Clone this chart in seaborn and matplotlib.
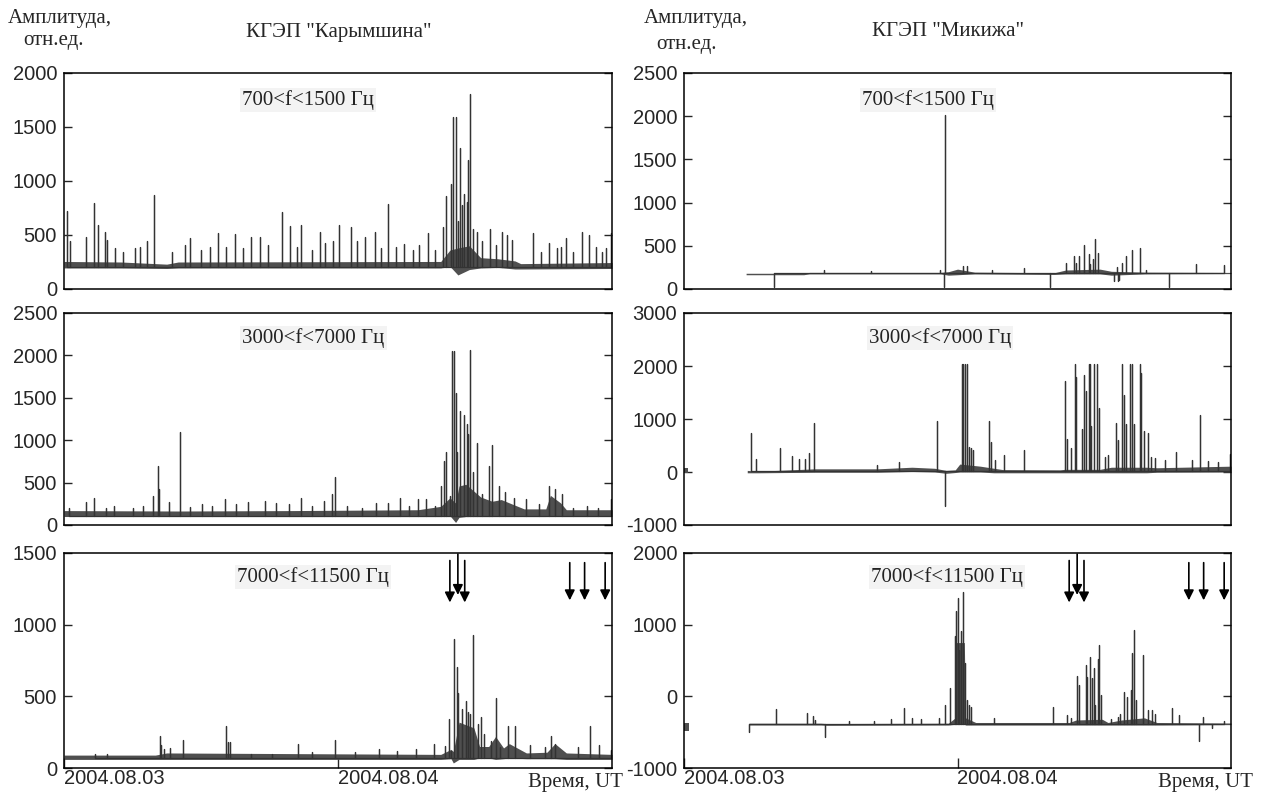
import matplotlib
matplotlib.use('Agg')
import numpy as np
import pandas as pd
import matplotlib.pyplot as plt
import seaborn as sns

# time axis: hours since 2004.08.03 00:00 UT
X_TICKS = [0, 24]
X_TICK_LABELS = ['2004.08.03', '2004.08.04']
ARROW_T = [33.8, 34.5, 35.1, 44.3, 45.6, 47.4]

# ---- Karymshina, 700<f<1500 Hz ----
KAR_LO_BASE = 200
KAR_LO_T = [0.3, 0.5, 1.9, 2.6, 3.0, 3.6, 3.8, 4.5, 5.2, 6.2, 6.7, 7.3, 7.9, 9.5, 10.6,
            11.0, 12.0, 12.8, 13.5, 14.2, 15.0, 15.7, 16.4, 17.2, 17.9, 19.1, 19.8, 20.4,
            20.8, 21.7, 22.4, 22.9, 23.6, 24.1, 25.1, 25.7, 26.4, 27.2, 27.8, 28.4, 29.1,
            29.8, 30.6, 31.1, 31.9, 32.5, 33.2, 33.5, 33.9, 34.1, 34.3, 34.5, 34.7, 34.9,
            35.0, 35.3, 35.4, 35.6, 35.8, 36.2, 36.6, 37.3, 37.8, 38.4, 38.8, 39.2, 41.1,
            41.8, 42.5, 43.2, 43.5, 44.0, 44.6, 45.4, 46.0, 46.6, 47.1, 47.5, 47.9]
KAR_LO_V = [725, 440, 485, 800, 590, 530, 450, 375, 340, 375, 390, 445, 870, 340, 405,
            475, 360, 390, 520, 390, 505, 375, 480, 480, 405, 710, 580, 390,
            590, 360, 525, 430, 440, 590, 570, 440, 485, 530, 375, 790, 390,
            415, 360, 405, 515, 360, 570, 860, 970, 1595, 1590, 625, 1310, 780,
            880, 805, 1195, 1805, 560, 530, 440, 560, 405, 530, 500, 450, 515,
            340, 430, 380, 390, 470, 340, 530, 500, 390, 340, 375, 520]
KAR_LO_BAND_T = [0, 5, 9, 10, 33, 33.8, 34.5, 35.5, 36.5, 38, 39.5, 40, 48]
KAR_LO_BAND_LO = [195, 195, 190, 195, 195, 210, 130, 180, 195, 200, 185, 185, 190]
KAR_LO_BAND_HI = [255, 250, 230, 250, 255, 360, 380, 400, 290, 280, 260, 235, 245]

# ---- Karymshina, 3000<f<7000 Hz ----
KAR_MID_BASE = 110
KAR_MID_T = [0.4, 1.9, 2.6, 3.7, 4.4, 6.0, 6.9, 7.8, 8.2, 8.3, 9.2, 10.2, 11.0, 12.1,
             13.0, 14.1, 15.1, 16.1, 17.6, 18.6, 19.7, 20.8, 21.7, 22.8, 23.5, 23.7,
             24.8, 26.1, 27.3, 28.4, 29.4, 30.2, 31.0, 31.7, 32.5, 33.0, 33.3, 33.5,
             33.8, 34.0, 34.2, 34.3, 34.4, 34.7, 35.0, 35.3, 35.4, 35.6, 35.8, 36.2,
             36.6, 37.2, 37.5, 38.1, 38.6, 39.4, 40.5, 41.6, 42.5, 43.0, 43.6, 44.6,
             45.8, 46.8, 47.9]
KAR_MID_V = [205, 270, 320, 205, 225, 205, 225, 345, 700, 420, 270, 1100, 215, 245,
             225, 305, 245, 270, 285, 265, 245, 320, 225, 285, 360, 565,
             225, 205, 265, 265, 315, 225, 305, 310, 225, 460, 755, 860,
             345, 2050, 2050, 1560, 855, 1345, 1295, 1190, 1070, 2060, 620, 970,
             360, 700, 940, 460, 390, 320, 310, 245, 460, 420, 360, 195,
             225, 205, 305]
KAR_MID_BAND_T = [0, 10, 20, 31, 33, 33.8, 34.3, 34.6, 35.2, 36.5, 37.5, 38.3, 39.2,
                  40.3, 42.2, 42.6, 43.5, 44, 48]
KAR_MID_BAND_LO = [100, 100, 100, 100, 100, 110, 30, 90, 100, 100, 100, 110, 105,
                   100, 100, 105, 100, 100, 100]
KAR_MID_BAND_HI = [170, 165, 170, 180, 220, 320, 260, 460, 480, 330, 280, 300, 250,
                   190, 190, 350, 260, 180, 180]

# ---- Karymshina, 7000<f<11500 Hz ----
KAR_HI_BASE = 70
KAR_HI_T = [2.7, 3.8, 8.4, 8.5, 8.8, 9.3, 10.4, 14.2, 14.4, 14.5, 16.4, 18.2, 20.5, 21.7,
            23.7, 25.5, 27.6, 29.2, 30.8, 32.4, 33.4, 33.7, 33.9, 34.2, 34.4, 34.5, 34.9,
            35.2, 35.4, 35.6, 35.8, 36.3, 36.5, 36.8, 37.4, 37.8, 38.2, 38.9, 39.5, 40.8,
            42.1, 42.7, 43.0, 45.0, 46.1, 46.9, 47.9]
KAR_HI_V = [100, 100, 225, 160, 130, 140, 195, 295, 180, 180, 100, 100, 165, 110,
            195, 110, 130, 120, 130, 165, 155, 340, 120, 900, 705, 520, 415,
            465, 390, 380, 930, 310, 355, 235, 190, 485, 145, 295, 295, 160,
            145, 220, 170, 145, 290, 160, 125]
KAR_HI_BAND_T = [0, 8, 9, 33, 33.9, 34.1, 34.6, 35.9, 36.4, 37.2, 37.8, 38.5, 39, 40.5,
                 42.3, 43, 44, 48]
KAR_HI_BAND_LO = [60, 60, 60, 60, 65, 35, 60, 60, 70, 70, 60, 65, 70, 65, 65, 65, 60, 60]
KAR_HI_BAND_HI = [90, 90, 105, 95, 130, 115, 320, 280, 150, 150, 220, 140, 170, 105,
                  110, 170, 105, 95]

# ---- Mikizha, 700<f<1500 Hz ----
MIK_LO_BASE = 180
MIK_LO_T = [7.9, 12.3, 16.4, 22.5, 22.8, 22.9, 24.5, 24.8, 27.0, 29.8, 32.1, 33.5, 34.2,
            34.4, 34.7, 35.1, 35.5, 35.6, 35.9, 36.1, 36.3, 37.7, 38.0, 38.1, 38.2, 38.4,
            38.8, 39.3, 40.0, 40.5, 42.6, 44.9, 47.4]
MIK_LO_V = [28, 225, 205, 225, 28, 2010, 265, 270, 225, 245, 28, 305, 380,
            305, 380, 510, 400, 285, 345, 580, 420, 90, 255, 90, 105, 305,
            385, 455, 480, 225, 28, 285, 275]
MIK_LO_BAND_T = [5.45, 10.5, 11, 22.5, 23.2, 24, 25.5, 32.5, 33.5, 36.5, 37.5, 40.5, 48]
MIK_LO_BAND_LO = [165, 165, 175, 175, 160, 165, 175, 168, 175, 175, 160, 175, 178]
MIK_LO_BAND_HI = [182, 182, 192, 192, 200, 230, 195, 188, 220, 230, 205, 195, 192]

# ---- Mikizha, 3000<f<7000 Hz ----
MIK_MID_BASE = 20
MIK_MID_T = [5.9, 6.3, 8.4, 9.5, 10.1, 10.6, 11.0, 11.4, 16.9, 18.9, 22.2, 22.9, 24.4,
             24.5, 24.7, 24.8, 25.0, 25.2, 25.4, 26.8, 26.9, 27.3, 28.1, 29.8, 33.4,
             33.6, 34.0, 34.3, 34.4, 34.9, 35.1, 35.3, 35.5, 35.6, 35.7, 36.0, 36.2,
             36.4, 36.9, 37.2, 37.9, 38.1, 38.4, 38.6, 38.8, 39.1, 39.3, 39.5, 40.0,
             40.1, 40.4, 40.7, 41.0, 41.3, 42.2, 43.2, 44.6, 45.3, 46.0, 46.9, 47.9]
MIK_MID_V = [740, 245, 455, 310, 245, 245, 350, 925, 135, 185, 955, -650, 2040,
             2040, 2040, 2040, 475, 445, 415, 970, 570, 230, 320, 415, 1710,
             630, 445, 2040, 1800, 815, 1835, 1525, 2040, 2040, 875, 2040, 2040,
             1215, 290, 320, 920, 600, 2040, 1460, 905, 2040, 2040, 905, 2040,
             1865, 765, 740, 290, 260, 230, 385, 230, 1075, 200, 185, 340]
MIK_MID_LEAD_T = [0, 0.35]
MIK_MID_LEAD_LO = [-10, -10]
MIK_MID_LEAD_HI = [75, 75]
MIK_MID_BAND_T = [5.55, 6.5, 11.5, 17, 20, 22, 23, 23.8, 24.2, 26, 27.2, 28, 33, 33.4,
                  36.5, 37.5, 40.6, 41.5, 48]
MIK_MID_BAND_LO = [-15, -15, -5, -5, 10, 0, -25, -10, 0, 0, -15, -15, -15, -15,
                   -15, -15, -15, -5, 0]
MIK_MID_BAND_HI = [30, 15, 60, 60, 90, 70, 30, 40, 150, 110, 70, 45, 40, 50,
                   50, 90, 90, 80, 110]

# ---- Mikizha, 7000<f<11500 Hz ----
MIK_HI_BASE = -385
MIK_HI_T = [5.7, 8.1, 10.8, 11.3, 11.5, 12.4, 14.5, 16.7, 18.2, 19.3, 20.0, 20.8, 22.4,
            22.9, 23.3, 23.8, 23.9, 24.0, 24.1, 24.3, 24.5, 24.7, 24.8, 25.0, 25.2,
            27.2, 32.4, 33.6, 34.0, 34.5, 34.7, 35.3, 35.4, 35.6, 35.8, 36.0, 36.1,
            36.3, 36.4, 36.6, 37.5, 38.1, 38.3, 38.6, 38.9, 39.2, 39.3, 39.5, 39.7,
            40.3, 40.7, 41.1, 41.3, 42.8, 43.4, 45.2, 45.5, 46.3, 47.4]
MIK_HI_V = [-500, -175, -235, -275, -325, -565, -340, -340, -315, -160, -300, -315, -300,
            -125, 120, 835, 1190, 1375, 650, 905, 1455, 460, -55, -125, -150,
            -300, -150, -255, -300, 280, 155, 435, 270, 545, 250, 390, -125,
            515, 720, 15, -315, -290, -245, 60, -10, 85, 600, 930, -55,
            575, -195, -195, -245, -160, -255, -620, -290, -440, -340]
MIK_HI_LEAD_T = [0, 0.4]
MIK_HI_LEAD_LO = [-480, -480]
MIK_HI_LEAD_HI = [-370, -370]
MIK_HI_BAND_T = [5.7, 12, 12.5, 23.2, 23.8, 23.9, 24.6, 24.7, 25.6, 33.8, 34.4, 36.7,
                 37.2, 38.4, 40.4, 41.5, 48]
MIK_HI_BAND_LO = [-400, -400, -405, -400, -390, -380, -380, -400, -400, -400, -400,
                  -400, -400, -400, -400, -400, -395]
MIK_HI_BAND_HI = [-375, -375, -380, -375, -300, 750, 750, -300, -365, -365, -330, -320,
                  -365, -330, -300, -365, -372]

LINE_C = '#333333'
FILL_C = '#4f4f4f'

sns.set_style('ticks')
plt.rcParams['font.family'] = ['Liberation Sans', 'DejaVu Sans']
plt.rcParams['axes.unicode_minus'] = False

W, H = 1261, 794
fig = plt.figure(figsize=(W / 100, H / 100), dpi=100)


def px_axes(x0, y0, x1, y1):
    return fig.add_axes([x0 / W, 1 - y1 / H, (x1 - x0) / W, (y1 - y0) / H])


def spike_frame(ts, vs, base):
    # each spike drawn as base -> peak -> base
    xs, ys = [], []
    for t, v in zip(ts, vs):
        xs += [t, t, t]
        ys += [base, v, base]
    return pd.DataFrame({'t': xs, 'v': ys})


panels = [
    dict(box=(64, 73, 612, 289), t=KAR_LO_T, v=KAR_LO_V, base=KAR_LO_BASE,
         bt=KAR_LO_BAND_T, blo=KAR_LO_BAND_LO, bhi=KAR_LO_BAND_HI,
         ylim=(0, 2000), ystep=500, label='700<f<1500 Гц', lx=0.445, ly=0.875),
    dict(box=(64, 313, 612, 525), t=KAR_MID_T, v=KAR_MID_V, base=KAR_MID_BASE,
         bt=KAR_MID_BAND_T, blo=KAR_MID_BAND_LO, bhi=KAR_MID_BAND_HI,
         ylim=(0, 2500), ystep=500, label='3000<f<7000 Гц', lx=0.455, ly=0.88),
    dict(box=(64, 553, 612, 768), t=KAR_HI_T, v=KAR_HI_V, base=KAR_HI_BASE,
         bt=KAR_HI_BAND_T, blo=KAR_HI_BAND_LO, bhi=KAR_HI_BAND_HI,
         ylim=(0, 1500), ystep=500, label='7000<f<11500 Гц', lx=0.455, ly=0.89,
         bottom=True),
    dict(box=(684, 73, 1231, 289), t=MIK_LO_T, v=MIK_LO_V, base=MIK_LO_BASE,
         bt=MIK_LO_BAND_T, blo=MIK_LO_BAND_LO, bhi=MIK_LO_BAND_HI,
         ylim=(0, 2500), ystep=500, label='700<f<1500 Гц', lx=0.446, ly=0.875),
    dict(box=(684, 313, 1231, 525), t=MIK_MID_T, v=MIK_MID_V, base=MIK_MID_BASE,
         bt=MIK_MID_BAND_T, blo=MIK_MID_BAND_LO, bhi=MIK_MID_BAND_HI,
         lead=(MIK_MID_LEAD_T, MIK_MID_LEAD_LO, MIK_MID_LEAD_HI),
         ylim=(-1000, 3000), ystep=1000, label='3000<f<7000 Гц', lx=0.468, ly=0.88),
    dict(box=(684, 553, 1231, 768), t=MIK_HI_T, v=MIK_HI_V, base=MIK_HI_BASE,
         bt=MIK_HI_BAND_T, blo=MIK_HI_BAND_LO, bhi=MIK_HI_BAND_HI,
         lead=(MIK_HI_LEAD_T, MIK_HI_LEAD_LO, MIK_HI_LEAD_HI),
         ylim=(-1000, 2000), ystep=1000, label='7000<f<11500 Гц', lx=0.48, ly=0.89,
         bottom=True),
]

serif = ['Liberation Serif', 'DejaVu Serif']

for p in panels:
    ax = px_axes(*p['box'])
    ax.fill_between(p['bt'], p['blo'], p['bhi'], color=FILL_C, lw=0)
    if 'lead' in p:
        lt, llo, lhi = p['lead']
        ax.fill_between(lt, llo, lhi, color=FILL_C, lw=0)
    sns.lineplot(data=spike_frame(p['t'], p['v'], p['base']), x='t', y='v', ax=ax,
                 sort=False, estimator=None, color=LINE_C, lw=0.9)
    ax.set_xlim(0, 48)
    ax.set_ylim(*p['ylim'])
    ax.set_yticks(np.arange(p['ylim'][0], p['ylim'][1] + 1, p['ystep']))
    ax.set_xlabel('')
    ax.set_ylabel('')
    for s in ax.spines.values():
        s.set_visible(True)
        s.set_linewidth(1.1)
        s.set_color('black')
    ax.tick_params(axis='y', direction='in', left=True, right=True, length=6,
                   width=1, labelsize=14.5, pad=5)
    if p.get('bottom'):
        ax.set_xticks(X_TICKS)
        ax.set_xticklabels(X_TICK_LABELS, ha='left')
        ax.tick_params(axis='x', direction='in', length=7, width=1, labelsize=14.5,
                       pad=1)
        for i, t in enumerate(ARROW_T):
            if i == 1:
                top, tip = 0.995, 0.805
            elif i < 3:
                top, tip = 0.965, 0.77
            else:
                top, tip = 0.955, 0.78
            ax.annotate('', xy=(t, tip), xytext=(t, top),
                        xycoords=('data', 'axes fraction'),
                        textcoords=('data', 'axes fraction'),
                        arrowprops=dict(arrowstyle='-|>', color='black', lw=1.2,
                                        mutation_scale=15, shrinkA=0, shrinkB=0))
    else:
        ax.set_xticks([])
    ax.text(p['lx'], p['ly'], p['label'], transform=ax.transAxes, ha='center',
            va='center', fontsize=15, family=serif, color='#222222',
            bbox=dict(facecolor='#f3f3f3', edgecolor='none', pad=1.5))


def ftext(x, y, s, **kw):
    fig.text(x / W, 1 - y / H, s, family=serif, fontsize=15, va='center', **kw)


ftext(60, 18, 'Амплитуда,', ha='center')
ftext(54, 41, 'отн.ед.', ha='center')
ftext(339, 32, 'КГЭП "Карымшина"', ha='center')
ftext(696, 18, 'Амплитуда,', ha='center')
ftext(687, 44, 'отн.ед.', ha='center')
ftext(948, 32, 'КГЭП "Микижа"', ha='center')
ftext(575, 782, 'Время, UT', ha='center')
ftext(1205, 782, 'Время, UT', ha='center')

fig.savefig('out.png', dpi=100, facecolor='white')
